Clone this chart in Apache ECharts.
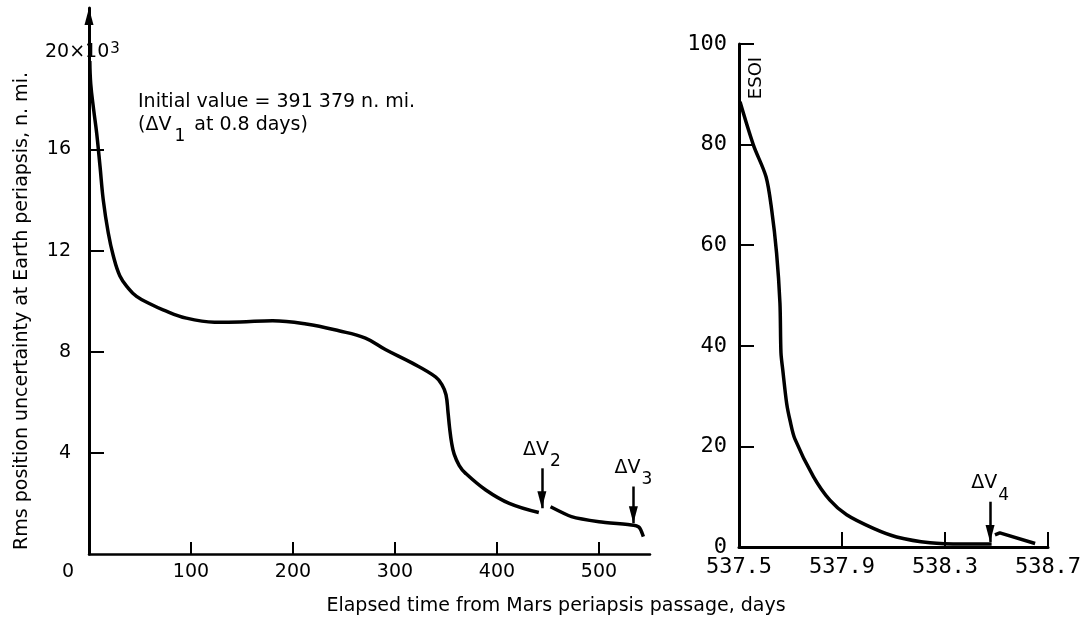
<!DOCTYPE html>
<html>
<head>
<meta charset="utf-8">
<script src="https://cdn.jsdelivr.net/npm/echarts@6/dist/echarts.min.js"></script>
<style>
  html, body { margin: 0; background: #fff; }
  #main { width: 1091px; height: 623px; }
</style>
</head>
<body>
<div id="main"></div>
<script>
// left panel: whole return leg, thousands of n. mi.
const cruiseDays = [0.8, 1.7, 4.5, 7.5, 10.8, 14, 18.9, 23.8, 30.3, 38.4, 46.6, 59.6, 72.6, 95.5, 123, 148, 180, 213, 245, 271, 291, 317, 340, 346, 350, 352, 353.5, 355.5, 358, 363, 369, 389, 412, 441];
const cruiseRms = [19.5, 18.6, 17.6, 16.66, 15.34, 14.0, 12.7, 11.8, 11.0, 10.52, 10.19, 9.9, 9.66, 9.33, 9.17, 9.18, 9.23, 9.10, 8.83, 8.54, 8.08, 7.55, 7.0, 6.7, 6.3, 5.6, 5.0, 4.4, 3.95, 3.5, 3.2, 2.53, 2.0, 1.64];
const coastDays = [452.5, 473, 500, 534, 539, 541, 543.5];
const coastRms = [1.87, 1.48, 1.28, 1.14, 1.07, 0.95, 0.69];

// right panel: last day before Earth, n. mi.
const approachDays = [537.504, 537.556, 537.605, 537.627, 537.646, 537.659, 537.663, 537.670, 537.685, 537.698, 537.717, 537.789, 537.853, 537.918, 538.022, 538.112, 538.242, 538.37, 538.481];
const approachRms = [88.5, 79.9, 73.6, 67.0, 58.4, 48.5, 38.6, 35.2, 28.6, 25.2, 21.5, 14.0, 9.3, 6.4, 3.7, 2.0, 0.85, 0.6, 0.6];
const finalDays = [538.494, 538.513, 538.65];
const finalRms = [2.4, 2.8, 0.7];

// ticks and labels
const leftXLabels = [0, 100, 200, 300, 400, 500];
const leftXTicks = [100, 200, 300, 400, 500];
const leftYTicks = [4, 8, 12, 16];
const rightXLabels = [537.5, 537.9, 538.3, 538.7];
const rightXTicks = [537.9, 538.3, 538.7];
const rightYLabels = [0, 20, 40, 60, 80, 100];
const rightYTicks = [20, 40, 60, 80, 100];

// velocity corrections: [day, arrow top, arrow tip, subscript]
const burnsLeft = [[444, 3.39, 1.81, '2'], [533.7, 2.67, 1.22, '3']];
const burnsRight = [[538.475, 9.0, 1.0, '4']];

const zip = (xs, ys) => xs.map((x, i) => [x, ys[i]]);

const sans = 'DejaVu Sans';
const mono = 'DejaVu Sans Mono';
const ink = '#000';

// narrow arrow heads, tip at the centre of the box so it lands on the end point
const arrowHead = 'path://M-17,0M17,0M0,-17M0,17M0,0L4.5,17L-4.5,17Z';
const axisArrowHead = 'path://M-4.5,0M4.5,0M0,-17M0,17M0,0L4.5,17L-4.5,17Z';

const burnLabelRich = {
  v: { fontFamily: sans, fontSize: 19, color: ink, lineHeight: 20, verticalAlign: 'top' },
  s: { fontFamily: sans, fontSize: 17, color: ink, lineHeight: 15, padding: [13, 0, 0, 1], verticalAlign: 'top' },
};

const burnLines = (burns) => burns.map(([day, top, tip, sub]) => [
  { coord: [day, top], label: { formatter: `{v|ΔV}{s|${sub}}` } },
  { coord: [day, tip] },
]);

const arrowMark = (data) => ({
  silent: true,
  symbol: ['none', arrowHead],
  symbolSize: 34,
  lineStyle: { color: ink, width: 2.5, type: 'solid' },
  label: { show: true, position: 'start', distance: 8, rich: burnLabelRich },
  emphasis: { disabled: true },
  data,
});

const curve = (xIdx, data, extra) => Object.assign({
  type: 'line',
  xAxisIndex: xIdx,
  yAxisIndex: xIdx,
  data,
  symbol: 'none',
  smooth: 0.3,
  lineStyle: { color: ink, width: 3.5 },
  silent: true,
  animation: false,
}, extra);

const axisBase = {
  type: 'value',
  splitLine: { show: false },
  axisLine: { show: true, onZero: false, lineStyle: { color: ink, width: 3 } },
};

const chart = echarts.init(document.getElementById('main'));

chart.setOption({
  animation: false,
  backgroundColor: '#fff',
  grid: [
    // top of the left grid sits at the tip of the off-scale arrow (about 21.6 x 10^3)
    { left: 89, top: 8, width: 561, height: 546 },
    { left: 739, top: 44, width: 309, height: 503 },
  ],
  xAxis: [
    Object.assign({}, axisBase, {
      gridIndex: 0, min: 0, max: 550,
      axisLine: { show: true, onZero: false, lineStyle: { color: ink, width: 2.5 } },
      axisTick: { inside: true, length: 12, customValues: leftXTicks, lineStyle: { color: ink, width: 2 } },
      axisLabel: {
        customValues: leftXLabels, margin: 9, color: ink, fontFamily: sans, fontSize: 19,
        formatter: (v) => (v === 0 ? '{z|0}' : String(v)),
        rich: { z: { fontFamily: sans, fontSize: 19, color: ink, padding: [0, 42, 0, 0] } },
      },
    }),
    Object.assign({}, axisBase, {
      gridIndex: 1, min: 537.5, max: 538.7,
      axisTick: { inside: true, length: 15, customValues: rightXTicks, lineStyle: { color: ink, width: 2 } },
      axisLabel: {
        customValues: rightXLabels, margin: 9, color: ink, fontFamily: mono, fontSize: 22,
        formatter: (v) => v.toFixed(1),
      },
    }),
  ],
  yAxis: [
    Object.assign({}, axisBase, {
      gridIndex: 0, min: 0, max: 21.6,
      // the axis doubles as the delta V1 arrow: initial value is off scale
      axisLine: {
        show: true, onZero: false,
        symbol: ['none', axisArrowHead], symbolSize: [9, 34],
        lineStyle: { color: ink, width: 3 },
      },
      axisTick: { inside: true, length: 15, customValues: leftYTicks, lineStyle: { color: ink, width: 2 } },
      axisLabel: { customValues: leftYTicks, margin: 18, color: ink, fontFamily: sans, fontSize: 19 },
    }),
    Object.assign({}, axisBase, {
      gridIndex: 1, min: 0, max: 100,
      axisTick: { inside: true, length: 15, customValues: rightYTicks, lineStyle: { color: ink, width: 2 } },
      axisLabel: { customValues: rightYLabels, margin: 12, color: ink, fontFamily: mono, fontSize: 22 },
    }),
  ],
  series: [
    curve(0, zip(cruiseDays, cruiseRms), {
      smooth: 0.4,
      markLine: arrowMark(burnLines(burnsLeft.slice(0, 1))),
    }),
    curve(0, zip(coastDays, coastRms), {
      smooth: 0.2,
      markLine: arrowMark(burnLines(burnsLeft.slice(1))),
    }),
    curve(1, zip(approachDays, approachRms), {
      markLine: arrowMark(burnLines(burnsRight)),
    }),
    curve(1, zip(finalDays, finalRms), { smooth: false }),
  ],
  graphic: [
    {
      type: 'text', x: 45, y: 42,
      style: {
        text: '{n|20}{n|×}{n|10}{p|3}',
        rich: {
          n: { fontFamily: sans, fontSize: 19, fill: ink, lineHeight: 20, verticalAlign: 'bottom' },
          p: { fontFamily: sans, fontSize: 15, fill: ink, lineHeight: 14, padding: [0, 0, 16, 1], verticalAlign: 'top' },
        },
      },
    },
    {
      type: 'text', x: 138, y: 93,
      style: { text: 'Initial value = 391 379 n. mi.', font: `19px "${sans}"`, fill: ink },
    },
    {
      type: 'text', x: 138, y: 116,
      style: {
        text: '{t|(ΔV}{s|1}{t| at 0.8 days)}',
        rich: {
          t: { fontFamily: sans, fontSize: 19, fill: ink, lineHeight: 20, verticalAlign: 'top' },
          s: { fontFamily: sans, fontSize: 17, fill: ink, lineHeight: 15, padding: [12, 3, 0, 3], verticalAlign: 'top' },
        },
      },
    },
    {
      type: 'text', x: 756, y: 78, rotation: Math.PI / 2,
      style: { text: 'ESOI', font: `18px "${sans}"`, fill: ink, align: 'center', verticalAlign: 'middle' },
    },
    {
      type: 'text', x: 22, y: 311, rotation: Math.PI / 2,
      style: {
        text: 'Rms position uncertainty at Earth periapsis, n. mi.',
        font: `19px "${sans}"`, fill: ink, align: 'center', verticalAlign: 'middle',
      },
    },
    {
      type: 'text', x: 556, y: 606,
      style: {
        text: 'Elapsed time from Mars periapsis passage, days',
        font: `19px "${sans}"`, fill: ink, align: 'center', verticalAlign: 'middle',
      },
    },
  ],
});
</script>
</body>
</html>
